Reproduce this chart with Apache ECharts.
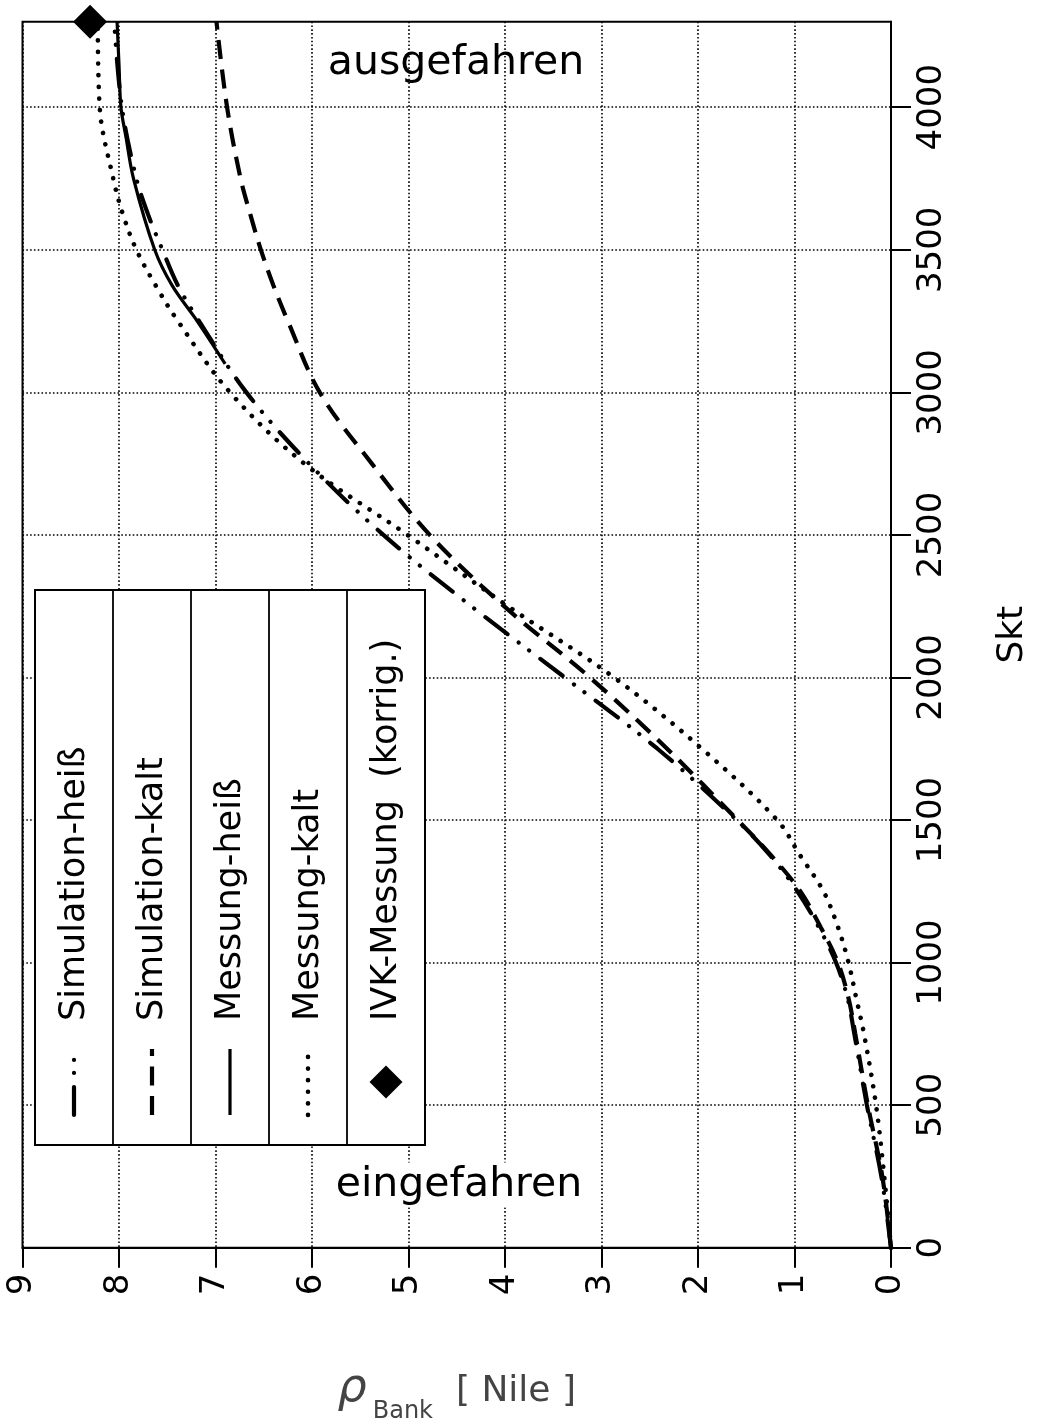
<!DOCTYPE html>
<html>
<head>
<meta charset="utf-8">
<script src="https://cdn.jsdelivr.net/npm/echarts@6/dist/echarts.min.js"></script>
<style>
  html, body { margin: 0; padding: 0; background: #fff; }
  #chart { width: 1051px; height: 1423px; }
</style>
</head>
<body>
<div id="chart"></div>
<script>
// Bank worth ρ_Bank [Nile] over rod position [Skt], drawn turned by 90°:
// rod position runs bottom→top on the right, worth runs right→left at the bottom.

const seriesNames = ['Simulation-heiß', 'Simulation-kalt', 'Messung-heiß', 'Messung-kalt', 'IVK-Messung  (korrig.)'];

// rod positions [Skt] shared by the simulated curves and the cold measurement
const sktSteps = [0, 250, 500, 750, 875, 1000, 1125, 1250, 1375, 1500, 1750, 2000, 2250, 2500, 2750, 3000, 3250, 3375, 3500, 3625, 3750, 4000, 4300];
const simHeiss = [0, 0.10, 0.25, 0.38, 0.45, 0.57, 0.75, 0.97, 1.25, 1.60, 2.42, 3.38, 4.35, 5.26, 6.03, 6.68, 7.17, 7.39, 7.55, 7.70, 7.82, 7.97, 8.05];
const simKalt  = [0, 0.09, 0.24, 0.37, 0.44, 0.55, 0.73, 0.94, 1.24, 1.59, 2.32, 3.12, 4.01, 4.78, 5.38, 5.92, 6.25, 6.40, 6.53, 6.64, 6.74, 6.88, 6.99];
const messKalt = [0, 0.07, 0.155, 0.28, 0.36, 0.44, 0.55, 0.70, 0.94, 1.18, 1.96, 2.87, 3.97, 5.01, 6.08, 6.85, 7.39, 7.62, 7.82, 7.96, 8.06, 8.20, 8.22];

// hot measurement only covers the upper part of the stroke
const messHeissSkt = [3100, 3250, 3375, 3500, 3750, 3900, 4000, 4150, 4300];
const messHeiss    = [6.90, 7.19, 7.45, 7.63, 7.85, 7.93, 7.98, 8.00, 8.02];

// single corrected IVK value at full withdrawal
const ivkSkt = [4300];
const ivkRho = [8.30];

// axis ticks
const rhoTicks = [0, 1, 2, 3, 4, 5, 6, 7, 8, 9];
const sktTicks = [0, 500, 1000, 1500, 2000, 2500, 3000, 3500, 4000];

const FONT = 'DejaVu Sans';
const pairs = (rho, skt) => rho.map((r, i) => [r, skt[i]]);

const styles = {
  simHeiss:  { color: '#000', width: 4.2, type: [28, 14, 0.1, 13, 0.1, 14], cap: 'round' },
  simKalt:   { color: '#000', width: 4.2, type: [19, 10.5], cap: 'butt' },
  messHeiss: { color: '#000', width: 3.2, type: 'solid' },
  messKalt:  { color: '#000', width: 4.6, type: [0.1, 11.5], cap: 'round' }
};

const lineSeries = (name, data, ls) => ({
  name, type: 'line', data, smooth: 0.35, symbol: 'none', showSymbol: false,
  silent: true, animation: false, lineStyle: ls, z: 3
});

const chart = echarts.init(document.getElementById('chart'), null, { renderer: 'canvas' });

// legend panel (upright columns, text running bottom→top)
const legX0 = 35, legY0 = 590, legW = 390, legH = 555, colW = legW / 5;
const iconTop = 1049, iconBottom = 1115, textStart = 1021;
const legendEls = [];
legendEls.push({ type: 'rect', shape: { x: legX0, y: legY0, width: legW, height: legH },
  style: { fill: '#fff', stroke: '#000', lineWidth: 2 }, z: 100 });
for (let i = 1; i < 5; i++) {
  const x = legX0 + i * colW;
  legendEls.push({ type: 'line', shape: { x1: x, y1: legY0, x2: x, y2: legY0 + legH },
    style: { stroke: '#000', lineWidth: 1.8 }, z: 101 });
}
const iconStyles = [styles.simHeiss, styles.simKalt, styles.messHeiss, styles.messKalt];
seriesNames.forEach((name, i) => {
  const cx = legX0 + (i + 0.5) * colW;
  if (i < 4) {
    const s = iconStyles[i];
    legendEls.push({ type: 'line', shape: { x1: cx, y1: iconBottom, x2: cx, y2: iconTop },
      style: { stroke: '#000', lineWidth: s.width, lineDash: Array.isArray(s.type) ? s.type : null,
               lineCap: s.cap || 'butt' }, z: 102 });
  } else {
    const cy = (iconTop + iconBottom) / 2, r = 16.5;
    legendEls.push({ type: 'polygon', shape: { points: [[cx, cy - r], [cx + r, cy], [cx, cy + r], [cx - r, cy]] },
      style: { fill: '#000' }, z: 102 });
  }
  legendEls.push({ type: 'text', x: cx + 1, y: textStart, rotation: Math.PI / 2, z: 102,
    style: { text: name, font: '35px "DejaVu Sans"', fill: '#000',
             align: 'left', verticalAlign: 'middle', textAlign: 'left', textVerticalAlign: 'middle' } });
});

const option = {
  backgroundColor: '#fff',
  animation: false,
  grid: { left: 22.5, right: 160, top: 21.7, bottom: 175.3, show: true,
          borderColor: '#000', borderWidth: 2, backgroundColor: 'transparent',
          containLabel: false, outerBoundsMode: 'none' },
  xAxis: {
    type: 'value', min: 0, max: 9, interval: 1, inverse: true, position: 'bottom',
    axisLine: { show: true, onZero: false, lineStyle: { color: '#000', width: 2 } },
    axisTick: { show: true, length: 20, lineStyle: { color: '#000', width: 2 } },
    axisLabel: { rotate: 90, margin: 26, fontSize: 34, fontFamily: FONT, color: '#000',
                 customValues: rhoTicks, formatter: v => String(v) },
    splitLine: { show: true, lineStyle: { color: '#000', width: 1.6, type: [1.6, 2.2] } },
    name: '{r|ρ}{b|Bank}{n|  [ Nile ]}',
    nameLocation: 'middle', nameGap: 112,
    nameTextStyle: {
      color: '#444',
      rich: {
        r: { fontSize: 46, fontFamily: FONT, fontStyle: 'italic', color: '#444', padding: [0, 0, 6, 0] },
        b: { fontSize: 24, fontFamily: FONT, color: '#444', padding: [40, 0, 0, 6] },
        n: { fontSize: 36, fontFamily: FONT, color: '#444' }
      }
    }
  },
  yAxis: {
    type: 'value', min: 0, max: 4300, interval: 500, position: 'right',
    axisLine: { show: true, onZero: false, lineStyle: { color: '#000', width: 2 } },
    axisTick: { show: true, length: 20, lineStyle: { color: '#000', width: 2 }, customValues: sktTicks },
    axisLabel: { rotate: 90, margin: 24, fontSize: 34, fontFamily: FONT, color: '#000',
                 customValues: sktTicks, formatter: v => String(v) },
    splitLine: { show: true, lineStyle: { color: '#000', width: 1.6, type: [1.6, 2.2] } },
    name: 'Skt', nameLocation: 'middle', nameGap: 104,
    nameTextStyle: { fontSize: 36, fontFamily: FONT, color: '#000' }
  },
  graphic: [
    { type: 'text', x: 456, y: 63, z: 50,
      style: { text: 'ausgefahren', font: '41px "DejaVu Sans"', fill: '#000',
               align: 'center', verticalAlign: 'middle', textAlign: 'center', textVerticalAlign: 'middle' } },
    { type: 'text', x: 459, y: 1185, z: 50,
      style: { text: 'eingefahren', font: '41px "DejaVu Sans"', fill: '#000', backgroundColor: '#fff',
               padding: [2, 6, 2, 6],
               align: 'center', verticalAlign: 'middle', textAlign: 'center', textVerticalAlign: 'middle' } },
    ...legendEls
  ],
  series: [
    lineSeries(seriesNames[0], pairs(simHeiss, sktSteps), styles.simHeiss),
    lineSeries(seriesNames[1], pairs(simKalt, sktSteps), styles.simKalt),
    lineSeries(seriesNames[2], pairs(messHeiss, messHeissSkt), styles.messHeiss),
    lineSeries(seriesNames[3], pairs(messKalt, sktSteps), styles.messKalt),
    { name: seriesNames[4], type: 'scatter', data: pairs(ivkRho, ivkSkt), symbol: 'diamond',
      symbolSize: 34, clip: false, silent: true, itemStyle: { color: '#000', opacity: 1 }, z: 5 }
  ]
};
chart.setOption(option);
</script>
</body>
</html>
